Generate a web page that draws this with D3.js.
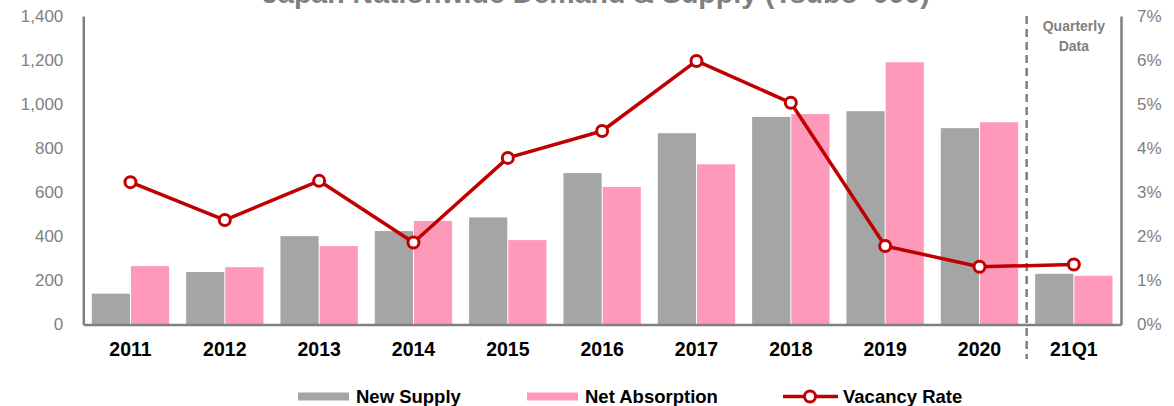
<!DOCTYPE html>
<html>
<head>
<meta charset="utf-8">
<script src="https://cdn.jsdelivr.net/npm/d3@7/dist/d3.min.js"></script>
<style>
  html, body { margin: 0; padding: 0; background: #fff; }
  svg { display: block; font-family: "Liberation Sans", Arial, sans-serif; }
</style>
</head>
<body>
<svg id="chart" width="1174" height="406"></svg>
<script>
const categories = ["2011","2012","2013","2014","2015","2016","2017","2018","2019","2020","21Q1"];
const newSupply = [140, 238, 401, 424, 486, 687, 868, 942, 968, 891, 230];
const netAbsorption = [265, 260, 356, 470, 383, 624, 727, 955, 1190, 918, 221];
const vacancyRate = [3.23, 2.37, 3.26, 1.86, 3.78, 4.39, 5.98, 5.03, 1.78, 1.31, 1.36];
const leftTicks = [0, 200, 400, 600, 800, 1000, 1200, 1400];
const rightTicks = [0, 1, 2, 3, 4, 5, 6, 7];
const titleText = "Japan Nationwide Demand & Supply (Tsubo '000)";
const seriesNames = ["New Supply", "Net Absorption", "Vacancy Rate"];
const quarterlyLabel = ["Quarterly", "Data"];

(function () {
const svg = d3.select("#chart");
const pLeft = 83.3, pRight = 1121, pTop = 16, pBottom = 324.5;
const gray = "#a5a5a5", pink = "#ff99b9", red = "#c00000", axisGray = "#7f7f7f";

const x = d3.scaleBand().domain(categories).range([pLeft, pRight]).paddingInner(0.18).paddingOuter(0.09);
const xs = d3.scaleBand().domain(["s", "a"]).range([0, x.bandwidth()]);
const yL = d3.scaleLinear().domain([0, 1400]).range([pBottom, pTop]);
const yR = d3.scaleLinear().domain([0, 7]).range([pBottom, pTop]);

// bars
const g = svg.append("g");
categories.forEach((c, i) => {
  g.append("rect").attr("x", x(c) + xs("s")).attr("width", xs.bandwidth() - 0.5)
    .attr("y", yL(newSupply[i])).attr("height", yL(0) - yL(newSupply[i])).attr("fill", gray);
  g.append("rect").attr("x", x(c) + xs("a") + 0.5).attr("width", xs.bandwidth() - 0.5)
    .attr("y", yL(netAbsorption[i])).attr("height", yL(0) - yL(netAbsorption[i])).attr("fill", pink);
});

// axes
const axL = d3.axisLeft(yL).tickValues(leftTicks).tickSize(0).tickPadding(20).tickFormat(d3.format(","));
const gL = svg.append("g").attr("transform", `translate(${pLeft},0)`).call(axL);
const axR = d3.axisRight(yR).tickValues(rightTicks).tickSize(0).tickPadding(16).tickFormat(d => d + "%");
const gR = svg.append("g").attr("transform", `translate(${pRight},0)`).call(axR);
const axB = d3.axisBottom(x).tickSize(0).tickPadding(18);
const gB = svg.append("g").attr("transform", `translate(0,${pBottom})`).call(axB);

[gL, gR].forEach(a => {
  a.select(".domain").attr("stroke", axisGray).attr("stroke-width", 2.5);
  a.selectAll("text").attr("fill", "#808080").style("font-size", "17px")
    .style("font-family", "'Liberation Sans', Arial, sans-serif");
});
gB.select(".domain").attr("stroke", axisGray).attr("stroke-width", 2.5);
gB.selectAll("text").attr("fill", "#000").style("font-size", "19.5px").style("font-weight", "bold")
  .style("font-family", "'Liberation Sans', Arial, sans-serif");

// dashed separator
const sepX = (x("2020") + x.bandwidth() + x("21Q1")) / 2;
svg.append("line").attr("x1", sepX).attr("x2", sepX).attr("y1", pTop).attr("y2", 359)
  .attr("stroke", "#7f7f7f").attr("stroke-width", 2.5).attr("stroke-dasharray", "8,5");

svg.append("text").attr("x", (sepX + pRight) / 2).attr("text-anchor", "middle")
  .style("font-weight", "bold").style("font-size", "14px").attr("fill", "#7f7f7f")
  .selectAll("tspan").data(quarterlyLabel).join("tspan")
  .attr("x", (sepX + pRight) / 2).attr("y", (d, i) => 31 + i * 20).text(d => d);

// vacancy line
const cx = c => x(c) + x.bandwidth() / 2;
const line = d3.line().x((d, i) => cx(categories[i])).y(d => yR(d));
svg.append("path").datum(vacancyRate).attr("d", line).attr("fill", "none")
  .attr("stroke", red).attr("stroke-width", 3.5).attr("stroke-linejoin", "round");
svg.selectAll("circle.v").data(vacancyRate).join("circle").attr("class", "v")
  .attr("cx", (d, i) => cx(categories[i])).attr("cy", d => yR(d)).attr("r", 5.5)
  .attr("fill", "#fff").attr("stroke", red).attr("stroke-width", 3);

// title
const title = svg.append("text").attr("x", 596).attr("y", 3).attr("text-anchor", "middle")
  .attr("font-weight", "bold").attr("font-size", 20).attr("fill", "#7f7f7f").text(titleText);
const tw = title.node().getComputedTextLength();
title.attr("font-size", 20 * 668 / tw);

// legend
const lg = svg.append("g").style("font-size", "18.5px").style("font-weight", "bold");
lg.append("rect").attr("x", 298).attr("y", 392.5).attr("width", 51).attr("height", 8).attr("fill", gray);
lg.append("text").attr("x", 356).attr("y", 402.5).attr("fill", "#000").text(seriesNames[0]);
lg.append("rect").attr("x", 527).attr("y", 392.5).attr("width", 51).attr("height", 8).attr("fill", pink);
lg.append("text").attr("x", 585).attr("y", 402.5).attr("fill", "#000").text(seriesNames[1]);
lg.append("line").attr("x1", 783).attr("x2", 838).attr("y1", 396.5).attr("y2", 396.5)
  .attr("stroke", red).attr("stroke-width", 3.5);
lg.append("circle").attr("cx", 810).attr("cy", 396.5).attr("r", 5.5).attr("fill", "#fff")
  .attr("stroke", red).attr("stroke-width", 3);
lg.append("text").attr("x", 843).attr("y", 402.5).attr("fill", "#000").text(seriesNames[2]);
})();
</script>
</body>
</html>
